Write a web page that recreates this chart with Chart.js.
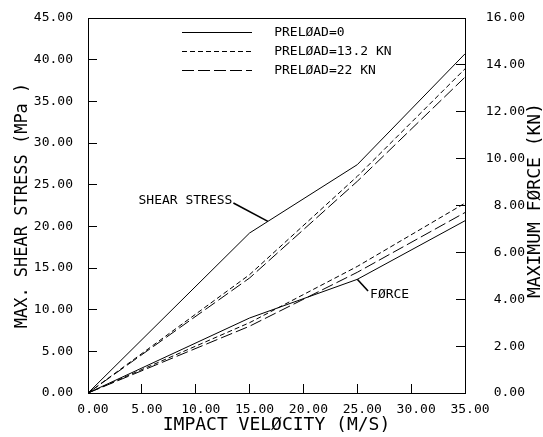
<!DOCTYPE html>
<html>
<head>
<meta charset="utf-8">
<script src="https://cdn.jsdelivr.net/npm/chart.js@4.4.1/dist/chart.umd.min.js"></script>
<style>
  html, body { margin: 0; padding: 0; background: #fff; }
  #wrap { width: 543px; height: 437px; }
</style>
</head>
<body>
<div id="wrap"><canvas id="c" width="543" height="437"></canvas></div>
<script>
// Impact velocity (m/s) at which the runs were made
const velocity = [0, 15, 25, 35];

// Maximum shear stress (MPa), left axis
const shearPreload0  = [0, 19.2, 27.4, 40.7];
const shearPreload13 = [0, 14.2, 26.0, 38.9];
const shearPreload22 = [0, 13.8, 25.4, 37.9];

// Maximum force (kN), right axis
const forcePreload0  = [0, 3.2, 4.85, 7.35];
const forcePreload13 = [0, 3.0, 5.4, 8.1];
const forcePreload22 = [0, 2.85, 5.15, 7.7];

const seriesLabels = ['PRELØAD=0', 'PRELØAD=13.2 KN', 'PRELØAD=22 KN'];

const xTitle = 'IMPACT VELØCITY (M/S)';
const leftTitle = 'MAX. SHEAR STRESS (MPa )';
const rightTitle = 'MAXIMUM FØRCE (KN)';

// line styles per preload level
const dashes = [[], [5, 3], [12, 4]];

const FONT = '"DejaVu Sans Mono", monospace';
Chart.defaults.font.family = FONT;
Chart.defaults.color = '#000';

const pts = arr => velocity.map((v, i) => ({ x: v, y: arr[i] }));

function series(label, arr, axis, k) {
  return {
    label: label,
    data: pts(arr),
    yAxisID: axis,
    borderColor: '#000',
    backgroundColor: '#000',
    borderWidth: 1,
    borderDash: dashes[k],
    pointRadius: 0,
    tension: 0,
    fill: false
  };
}

// callout labels with leader lines (data coordinates)
const callouts = [
  { text: 'SHEAR STRESS', axis: 'y',  from: [16.7, 20.6], to: [13.5, 22.8], side: 'left' },
  { text: 'FØRCE',        axis: 'y2', from: [25.0, 4.85], to: [26.0, 4.35], side: 'right' }
];

const calloutPlugin = {
  id: 'callouts',
  afterDatasetsDraw(chart) {
    const ctx = chart.ctx;
    const xs = chart.scales.x;
    ctx.save();
    ctx.strokeStyle = '#000';
    ctx.fillStyle = '#000';
    ctx.lineWidth = 1.6;
    ctx.font = '13px ' + FONT;
    ctx.textBaseline = 'middle';
    callouts.forEach(c => {
      const ys = chart.scales[c.axis];
      const x1 = xs.getPixelForValue(c.from[0]), y1 = ys.getPixelForValue(c.from[1]);
      const x2 = xs.getPixelForValue(c.to[0]),   y2 = ys.getPixelForValue(c.to[1]);
      ctx.beginPath();
      ctx.moveTo(x1, y1);
      ctx.lineTo(x2, y2);
      ctx.stroke();
      if (c.side === 'left') {
        ctx.textAlign = 'right';
        ctx.fillText(c.text, x2 - 1, y2 - 2);
      } else {
        ctx.textAlign = 'left';
        ctx.fillText(c.text, x2 + 2, y2 + 4);
      }
    });
    ctx.restore();
  },
  afterDraw(chart) {
    // right-hand axis title, reading bottom to top like the left one
    const ctx = chart.ctx;
    const s = chart.scales.y2;
    ctx.save();
    ctx.fillStyle = '#000';
    ctx.font = '18px ' + FONT;
    ctx.textAlign = 'center';
    ctx.textBaseline = 'middle';
    ctx.translate(chart.width - 8, (s.top + s.bottom) / 2 - 5);
    ctx.rotate(-Math.PI / 2);
    ctx.fillText(rightTitle, 0, 0);
    ctx.restore();
  }
};

// place the legend inside the plot frame, near the top
const legendPlacer = {
  id: 'legendPlacer',
  afterLayout(chart) {
    const lg = chart.legend;
    const ca = chart.chartArea;
    lg.left = ca.left + 88;
    lg.top = ca.top + 2;
    lg.width = 260;
    lg.height = 90;
    lg.right = lg.left + lg.width;
    lg.bottom = lg.top + lg.height;
  }
};

const tickGrid = { drawOnChartArea: false, drawTicks: true, tickLength: -9, color: '#000', tickColor: '#000', lineWidth: 1 };
const frame = { display: true, color: '#000', width: 1 };

function fixY(width) {
  return s => { s.width = width; s.paddingTop = 0; s.paddingBottom = 0; };
}

new Chart(document.getElementById('c'), {
  type: 'line',
  data: {
    datasets: [
      series(seriesLabels[0], shearPreload0, 'y', 0),
      series(seriesLabels[1], shearPreload13, 'y', 1),
      series(seriesLabels[2], shearPreload22, 'y', 2),
      series(seriesLabels[0], forcePreload0, 'y2', 0),
      series(seriesLabels[1], forcePreload13, 'y2', 1),
      series(seriesLabels[2], forcePreload22, 'y2', 2)
    ]
  },
  options: {
    responsive: false,
    animation: false,
    layout: { padding: { left: 0, right: 18, top: 18, bottom: 0 } },
    plugins: {
      tooltip: { enabled: false },
      legend: {
        position: 'chartArea',
        align: 'start',
        labels: {
          usePointStyle: true,
          pointStyle: 'line',
          pointStyleWidth: 70,
          boxWidth: 70,
          padding: 6,
          color: '#000',
          font: { size: 13 },
          filter: item => item.datasetIndex < 3,
          generateLabels(chart) {
            const items = Chart.defaults.plugins.legend.labels.generateLabels(chart);
            items.forEach(it => {
              const ds = chart.data.datasets[it.datasetIndex];
              it.text = '  ' + it.text;
              it.fillStyle = '#000';
              it.strokeStyle = '#000';
              it.lineWidth = ds.borderWidth;
              it.lineDash = ds.borderDash;
            });
            return items;
          }
        }
      }
    },
    scales: {
      x: {
        type: 'linear',
        position: 'bottom',
        min: 0, max: 35,
        ticks: {
          stepSize: 5, autoSkip: false, maxRotation: 0,
          padding: 18, labelOffset: 5,
          font: { size: 13 },
          callback: v => Number(v).toFixed(2)
        },
        grid: tickGrid,
        border: frame,
        title: { display: true, text: xTitle, font: { size: 18 }, padding: { top: 0, bottom: 1 } },
        afterFit(s) { s.height = 44; }
      },
      xTop: {
        type: 'linear',
        position: 'top',
        min: 0, max: 35,
        ticks: { display: false },
        grid: { display: false, drawTicks: false },
        border: frame,
        afterFit(s) { s.height = 0; }
      },
      y: {
        type: 'linear',
        position: 'left',
        min: 0, max: 45,
        ticks: { stepSize: 5, padding: 24, font: { size: 13 }, callback: v => Number(v).toFixed(2) },
        grid: tickGrid,
        border: frame,
        title: { display: true, text: leftTitle, font: { size: 17 }, padding: { top: 12, bottom: 0 } },
        afterFit: fixY(88)
      },
      y2: {
        type: 'linear',
        position: 'right',
        min: 0, max: 16,
        ticks: { stepSize: 2, padding: 12, crossAlign: 'far', font: { size: 13 }, callback: v => Number(v).toFixed(2) },
        grid: tickGrid,
        border: frame,
        afterFit: fixY(60)
      }
    }
  },
  plugins: [legendPlacer, calloutPlugin]
});
</script>
</body>
</html>
